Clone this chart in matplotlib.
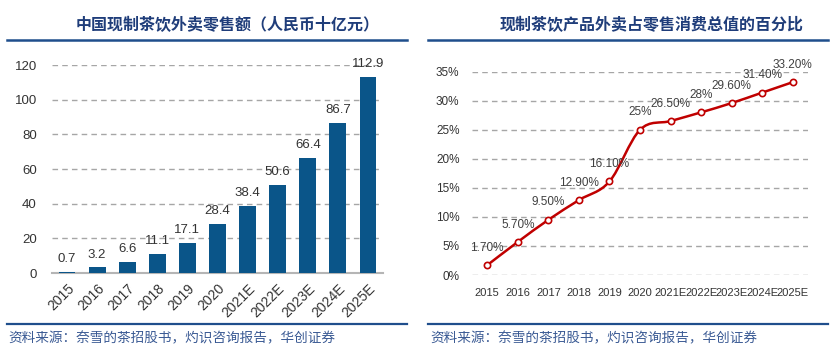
import matplotlib
matplotlib.use("Agg")
import matplotlib.pyplot as plt
from matplotlib.path import Path
from matplotlib.patches import PathPatch
from matplotlib.lines import Line2D

years = ['2015', '2016', '2017', '2018', '2019', '2020',
         '2021E', '2022E', '2023E', '2024E', '2025E']
sales = [0.7, 3.2, 6.6, 11.1, 17.1, 28.4, 38.4, 50.6, 66.4, 86.7, 112.9]
share = [1.7, 5.7, 9.5, 12.9, 16.1, 25.0, 26.5, 28.0, 29.6, 31.4, 33.2]
share_labels = ['1.70%', '5.70%', '9.50%', '12.90%', '16.10%', '25%',
                '26.50%', '28%', '29.60%', '31.40%', '33.20%']
left_yticks = [0, 20, 40, 60, 80, 100, 120]
right_yticks = [0, 5, 10, 15, 20, 25, 30, 35]
right_ytick_labels = ['0%', '5%', '10%', '15%', '20%', '25%', '30%', '35%']
left_title = '中国现制茶饮外卖零售额（人民币十亿元）'
right_title = '现制茶饮产品外卖占零售消费总值的百分比'
source = '资料来源：奈雪的茶招股书，灼识咨询报告，华创证券'

CJK = ['Noto Sans CJK SC', 'DejaVu Sans']
NUM = ['Liberation Sans', 'DejaVu Sans']
TITLE_C = '#1f3d7a'
RULE_C = '#1f4e8c'
BAR_C = '#0a5589'
LINE_C = '#c00000'
GRID_C = '#a6a6a6'
TXT_C = '#333333'

W, H = 831, 354
fig = plt.figure(figsize=(W / 100, H / 100), dpi=100)


def fx(px):
    return px / W


def fy(py):
    return 1 - py / H


# ---------- left: bar chart ----------
axL = fig.add_axes([fx(52), fy(273), fx(383 - 52), fy(65) - fy(273)])
x = list(range(len(years)))
axL.bar(x, sales, width=0.56, color=BAR_C, zorder=3)
for xi, v in zip(x, sales):
    axL.annotate(f'{v:g}', (xi, v), xytext=(0, 5), textcoords='offset points',
                 ha='center', va='bottom', fontsize=9.5, color=TXT_C,
                 family=NUM, zorder=4)
axL.set_xlim(-0.5, len(years) - 0.5)
axL.set_ylim(0, 120)
axL.set_yticks(left_yticks)
axL.set_yticklabels([str(t) for t in left_yticks], fontsize=9.5, color=TXT_C, family=NUM)
axL.set_xticks(x)
axL.set_xticklabels(years, rotation=45, ha='right', va='top',
                    rotation_mode='anchor', fontsize=10, color=TXT_C, family=NUM)
axL.tick_params(axis='both', length=0)
axL.tick_params(axis='y', pad=11)
axL.tick_params(axis='x', pad=6)
axL.yaxis.grid(True, linestyle=(0, (4, 3)), color=GRID_C, linewidth=1, zorder=0)
for s in ['top', 'right', 'left']:
    axL.spines[s].set_visible(False)
axL.spines['bottom'].set_color('#b5b5b5')
axL.spines['bottom'].set_linewidth(1.5)
axL.spines['bottom'].set_zorder(2)
axL.set_axisbelow(True)

# ---------- right: smooth line chart ----------
axR = fig.add_axes([fx(472), fy(275), fx(808 - 472), fy(71.7) - fy(275)])
pts = list(zip(x, share))
n = len(pts)
verts = [pts[0]]
codes = [Path.MOVETO]
for i in range(n - 1):
    p0 = pts[max(i - 1, 0)]
    p1 = pts[i]
    p2 = pts[i + 1]
    p3 = pts[min(i + 2, n - 1)]
    c1 = (p1[0] + (p2[0] - p0[0]) / 6, p1[1] + (p2[1] - p0[1]) / 6)
    c2 = (p2[0] - (p3[0] - p1[0]) / 6, p2[1] - (p3[1] - p1[1]) / 6)
    verts += [c1, c2, p2]
    codes += [Path.CURVE4] * 3
axR.add_patch(PathPatch(Path(verts, codes), facecolor='none', edgecolor=LINE_C,
                        linewidth=1.8, zorder=3))
axR.plot(x, share, linestyle='none', marker='o', markersize=4.5,
         markerfacecolor='white', markeredgecolor=LINE_C, markeredgewidth=1.2,
         zorder=4)
for xi, v, lab in zip(x, share, share_labels):
    axR.annotate(lab, (xi, v), xytext=(0, 12.5), textcoords='offset points',
                 ha='center', va='center', fontsize=8.5, color='#404040',
                 family=NUM, zorder=5)
axR.set_xlim(-0.5, len(years) - 0.5)
axR.set_ylim(0, 35)
axR.set_yticks(right_yticks)
axR.set_yticklabels(right_ytick_labels, fontsize=8.5, color=TXT_C, family=NUM)
axR.set_xticks(x)
axR.set_xticklabels(years, fontsize=8, color=TXT_C, family=NUM)
axR.tick_params(axis='both', length=0)
axR.tick_params(axis='y', pad=9)
axR.tick_params(axis='x', pad=9)
axR.yaxis.grid(True, linestyle=(0, (4, 3)), color=GRID_C, linewidth=1, zorder=0)
for s in ['top', 'right', 'left', 'bottom']:
    axR.spines[s].set_visible(False)
axR.set_axisbelow(True)

# ---------- titles, rules and sources ----------
fig.text(fx(228), fy(25), left_title, ha='center', va='center', fontsize=11.5,
         fontweight='bold', color=TITLE_C, family=CJK)
fig.text(fx(652), fy(25), right_title, ha='center', va='center', fontsize=11.5,
         fontweight='bold', color=TITLE_C, family=CJK)
for (a, b) in [(7, 407), (428, 828)]:
    fig.add_artist(Line2D([fx(a), fx(b)], [fy(40), fy(40)], color=RULE_C,
                          linewidth=1.8, transform=fig.transFigure))
    fig.add_artist(Line2D([fx(a), fx(b)], [fy(324), fy(324)], color=RULE_C,
                          linewidth=1.6, transform=fig.transFigure))
fig.text(fx(8), fy(338), source, ha='left', va='center', fontsize=9.8,
         color='#3a5a94', family=CJK, style='italic')
fig.text(fx(430), fy(338), source, ha='left', va='center', fontsize=9.8,
         color='#3a5a94', family=CJK, style='italic')

fig.savefig('out.png', dpi=100)
